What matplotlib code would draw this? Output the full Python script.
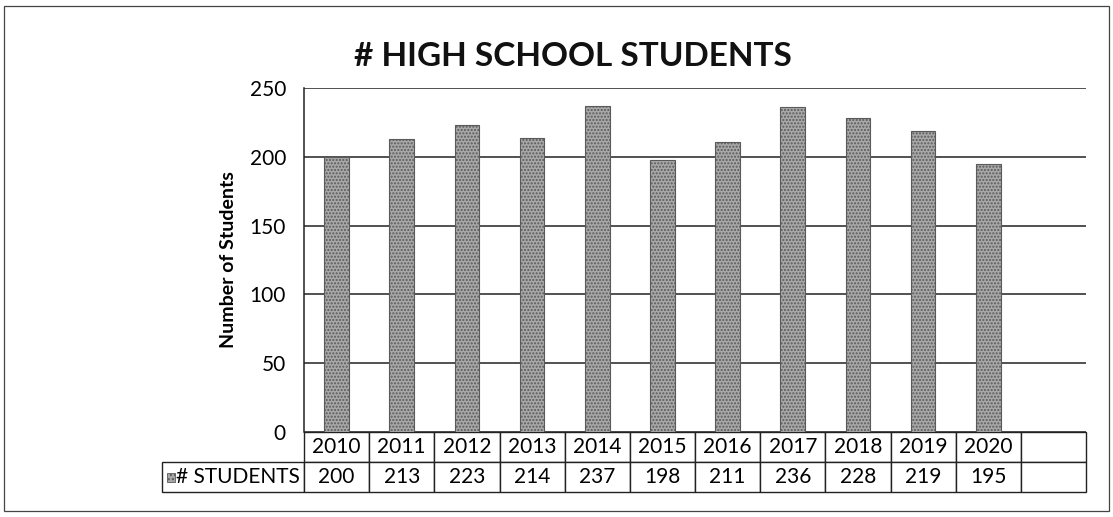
import matplotlib.pyplot as plt
from matplotlib.patches import Rectangle

# Data
years = ['2010', '2011', '2012', '2013', '2014', '2015', '2016', '2017', '2018', '2019', '2020']
students = [200, 213, 223, 214, 237, 198, 211, 236, 228, 219, 195]
series_label = '# STUDENTS'

plt.rcParams['font.family'] = ['Lato', 'DejaVu Sans']

W, H = 1113, 517
fig = plt.figure(figsize=(W / 100, H / 100), dpi=100)

# plot area in pixels
x0, x1 = 304, 1086
y_top, y_bot = 88, 432
ax = fig.add_axes([x0 / W, 1 - y_bot / H, (x1 - x0) / W, (y_bot - y_top) / H])

n_cols = len(years) + 1  # one empty category at the end
pos = list(range(len(years)))
ax.bar(pos, students, width=0.38, color='#a8a8a8', edgecolor='#5a5a5a',
       hatch='.....', linewidth=0.8, zorder=3)
ax.set_xlim(-0.5, n_cols - 0.5)
ax.set_ylim(0, 250)
ax.set_yticks([0, 50, 100, 150, 200, 250])
ax.tick_params(axis='y', length=0, pad=13, labelsize=15)
ax.set_xticks([])
ax.grid(axis='y', color='#222222', linewidth=1.1, zorder=0)
for s in ['top', 'bottom', 'right']:
    ax.spines[s].set_visible(False)
ax.spines['left'].set_color('#222222')
ax.spines['left'].set_linewidth(1.1)
ax.set_ylabel('Number of Students', fontsize=14, fontweight='bold')
ax.yaxis.set_label_coords(-(x0 - 237) / (x1 - x0), 0.5)

# data table below the plot area
label_w = 142
col_w = (x1 - x0) / n_cols
row_h = 30
rows = [[''] + years + [''], [series_label] + [str(v) for v in students] + ['']]
widths = [label_w] + [col_w] * n_cols
tot_w = sum(widths)
tbl = ax.table(cellText=rows, colWidths=[w / tot_w for w in widths],
               cellLoc='center',
               bbox=[-label_w / (x1 - x0), -2 * row_h / (y_bot - y_top),
                     tot_w / (x1 - x0), 2 * row_h / (y_bot - y_top)])
tbl.auto_set_font_size(False)
for (r, c), cell in tbl.get_celld().items():
    cell.set_fontsize(15)
    cell.set_edgecolor('#222222')
    cell.set_linewidth(1.0)
    if r == 0 and c == 0:
        cell.visible_edges = ''
tbl[1, 0].get_text().set_ha('right')
tbl[1, 0].PAD = 0.03

# small legend key in front of the series label
ax.add_patch(Rectangle((-137 / (x1 - x0), -50 / (y_bot - y_top)),
                       8 / (x1 - x0), 9 / (y_bot - y_top),
                       transform=ax.transAxes, clip_on=False,
                       facecolor='#a8a8a8', edgecolor='#5a5a5a', hatch='....',
                       linewidth=0.6))

fig.text(573 / W, 1 - 56 / H, '# HIGH SCHOOL STUDENTS', ha='center', va='center',
         fontsize=24, fontweight='bold', color='#111111')

# outer chart border
fig.add_artist(Rectangle((4 / W, 6 / H), (W - 8) / W, (H - 12) / H,
                         transform=fig.transFigure, fill=False,
                         edgecolor='#444444', linewidth=0.9))

fig.savefig('out.png', dpi=100)
